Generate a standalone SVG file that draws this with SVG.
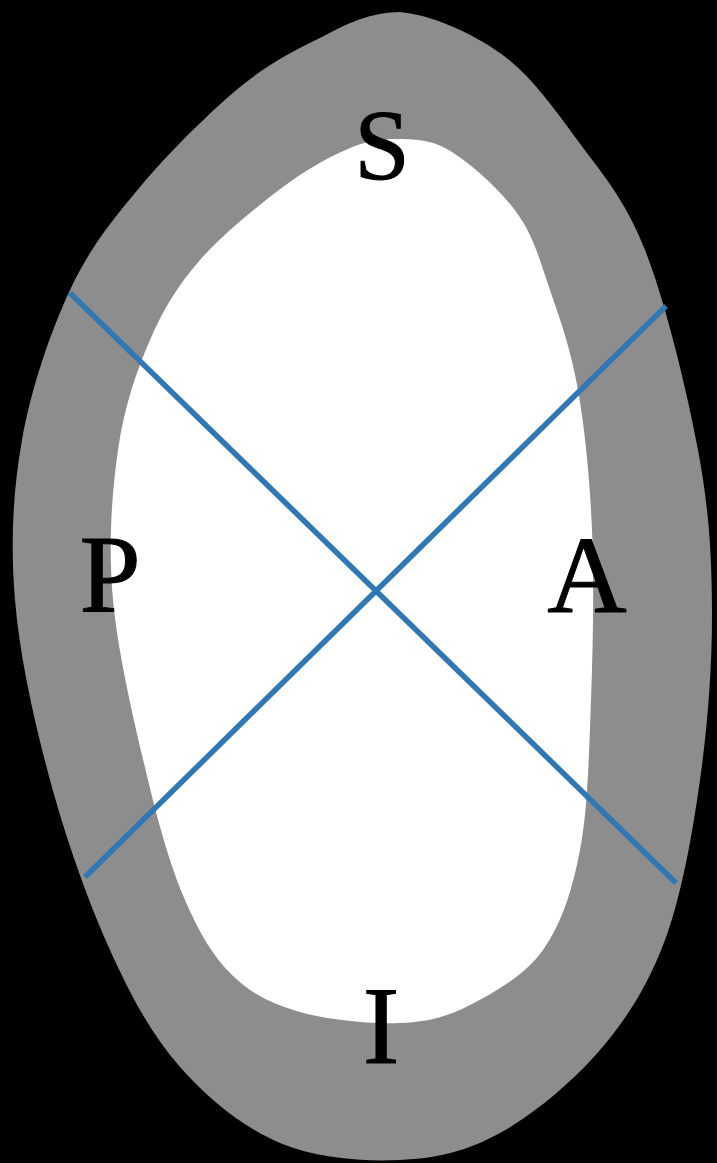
<svg xmlns="http://www.w3.org/2000/svg" width="717" height="1163" viewBox="0 0 717 1163">
<style>
.lbl{font-family:"Liberation Serif","Times New Roman",serif;fill:#000;stroke:#000;stroke-width:1;text-anchor:middle}
.axis{stroke:#2f78b4;stroke-width:5.5;stroke-linecap:butt;fill:none}
</style>
<rect id="background" x="0" y="0" width="717" height="1163" fill="#000"/>
<g id="outer">
<path fill="#8d8d8d" d="M400,12 C430,14.5 470.8,32.2 500,53 C529.2,73.8 550.8,104.2 575,137 C599.2,169.8 624.5,197.8 645,250 C665.5,302.2 686.8,390 698,450 C709.2,510 711.7,555 712,610 C712.3,665 707.8,725 700,780 C692.2,835 681.7,895 665,940 C648.3,985 627.5,1017.8 600,1050 C572.5,1082.2 533.3,1114.7 500,1133 C466.7,1151.3 436.7,1158.3 400,1160 C363.3,1161.7 316.7,1158.5 280,1143 C243.3,1127.5 208.3,1099.2 180,1067 C151.7,1034.8 131.7,997.8 110,950 C88.3,902.2 65.8,838.3 50,780 C34.2,721.7 19.7,656.7 15,600 C10.3,543.3 12.8,491.7 22,440 C31.2,388.3 50.3,332.2 70,290 C89.7,247.8 111.7,220.8 140,187 C168.3,153.2 210,111.8 240,87 C270,62.2 300,47.5 322,37 C347,23.2 372,12 400,12 Z"/>
</g>
<g id="inner">
<path fill="#fff" d="M400,139 C416.7,139.3 432.5,139.7 452,152 C471.5,164.3 500.3,189.7 517,213 C533.7,236.3 539.8,260.5 550,290 C560.2,319.5 571,350 578,390 C585,430 589.8,478.3 592,530 C594.2,581.7 593,646.7 591,700 C589,753.3 588,808.3 580,850 C572,891.7 561.3,924.2 543,950 C524.7,975.8 493.8,992.8 470,1005 C446.2,1017.2 428.3,1021.8 400,1023 C371.7,1024.2 328,1020 300,1012 C272,1004 251.2,993.7 232,975 C212.8,956.3 199,932.5 185,900 C171,867.5 160,830 148,780 C136,730 118,655 113,600 C108,545 111.8,493.3 118,450 C124.2,406.7 136.3,371.7 150,340 C163.7,308.3 177.8,285.5 200,260 C222.2,234.5 258,205.7 283,187 C308,168.3 331.3,155.8 350,148 C368.7,140.2 383.3,138.7 400,139 Z"/>
</g>
<g id="connectors">
<line class="axis" x1="70" y1="293" x2="676" y2="883"/>
<line class="axis" x1="666" y1="306" x2="85" y2="877"/>
</g>
<g id="label-S"><text class="lbl" x="382" y="178" font-size="100">S</text></g>
<g id="label-P"><text class="lbl" x="110" y="611" font-size="110">P</text></g>
<g id="label-A"><text class="lbl" x="587" y="612" font-size="110">A</text></g>
<g id="label-I"><text class="lbl" x="381" y="1063" font-size="110">I</text></g>
</svg>
